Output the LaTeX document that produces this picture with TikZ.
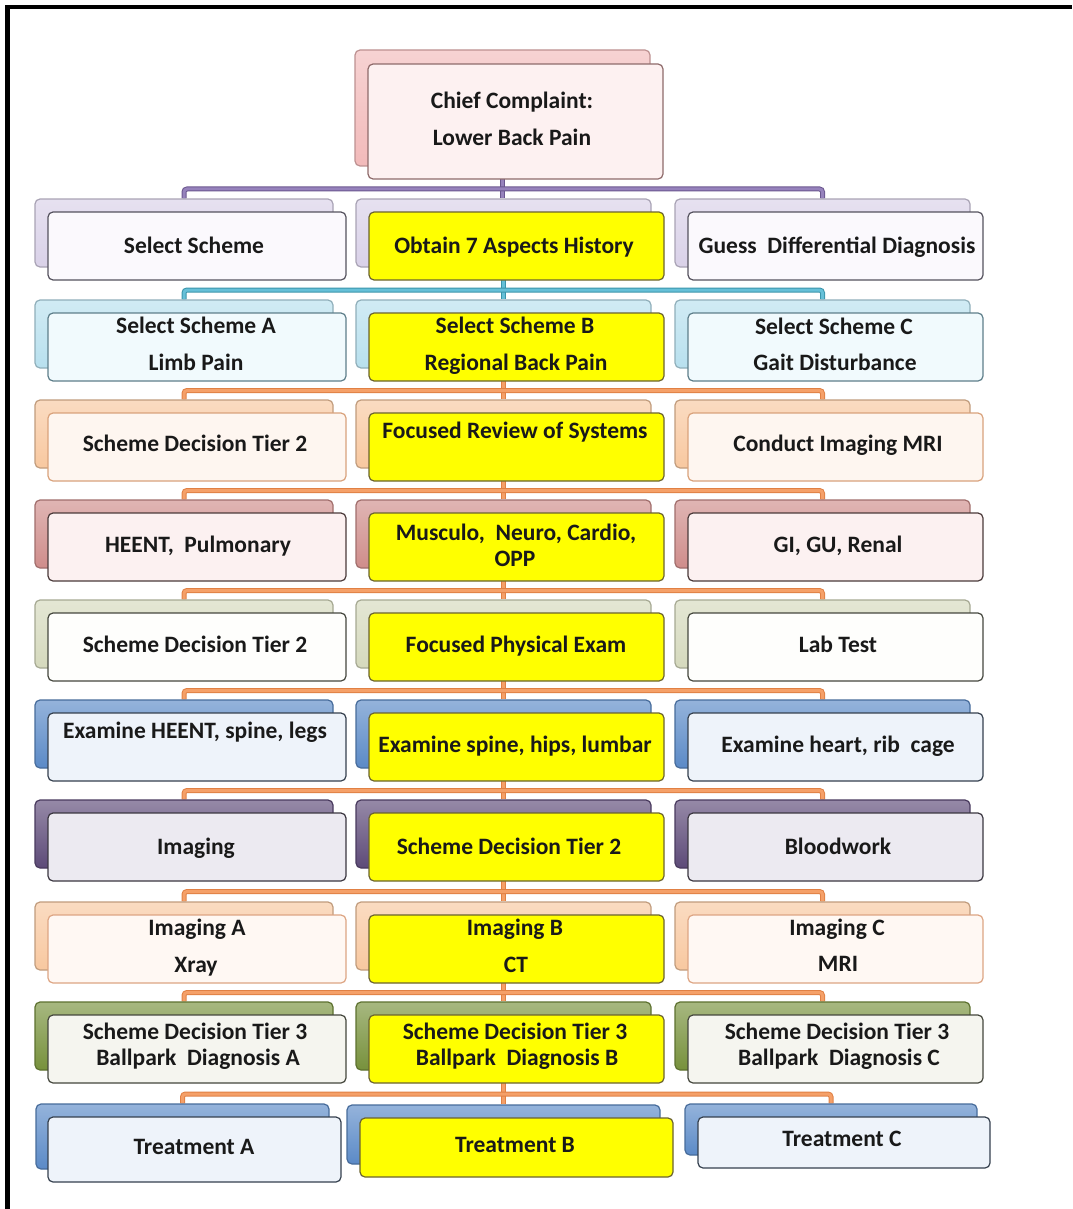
\documentclass[tikz,border=0pt]{standalone}
\usepackage{fontspec}
\setmainfont{Carlito}
\usetikzlibrary{fit,calc}
\pgfdeclarelayer{paper}
\pgfdeclarelayer{links}
\pgfsetlayers{paper,links,main}

% back (stacked) card colours per row
\definecolor{bk0}{HTML}{F2BABA}
\definecolor{bk1}{HTML}{D9D1E8}
\definecolor{bk2}{HTML}{B8E0EE}
\definecolor{bk3}{HTML}{F8C8A0}
\definecolor{bk4}{HTML}{CF8D8B}
\definecolor{bk5}{HTML}{D5D9BD}
\definecolor{bk6}{HTML}{5B8AC7}
\definecolor{bk7}{HTML}{5D4A78}
\definecolor{bk8}{HTML}{F8C8A0}
\definecolor{bk9}{HTML}{77913C}
\definecolor{bk10}{HTML}{5B8AC7}
% front card fills and borders per row
\definecolor{fr0}{HTML}{FDF1F1}\definecolor{frd0}{HTML}{8E6A6A}
\definecolor{fr1}{HTML}{FBF9FD}\definecolor{frd1}{HTML}{55525E}
\definecolor{fr2}{HTML}{F1FAFD}\definecolor{frd2}{HTML}{5E7E8A}
\definecolor{fr3}{HTML}{FEF6F0}\definecolor{frd3}{HTML}{D9A27C}
\definecolor{fr4}{HTML}{FCF1F1}\definecolor{frd4}{HTML}{4A3A3A}
\definecolor{fr5}{HTML}{FEFEFC}\definecolor{frd5}{HTML}{45473E}
\definecolor{fr6}{HTML}{EEF3FA}\definecolor{frd6}{HTML}{35404E}
\definecolor{fr7}{HTML}{ECEAF1}\definecolor{frd7}{HTML}{3A3640}
\definecolor{fr8}{HTML}{FFF8F3}\definecolor{frd8}{HTML}{DDA583}
\definecolor{fr9}{HTML}{F5F5EF}\definecolor{frd9}{HTML}{44463C}
\definecolor{fr10}{HTML}{EEF3FA}\definecolor{frd10}{HTML}{35404E}
\definecolor{hiyel}{HTML}{FFFF00}
\definecolor{hiyeld}{HTML}{6B6330}
% connector colours
\definecolor{lkpurple}{HTML}{9682BC}\definecolor{lkpurpled}{HTML}{6A568E}
\definecolor{lkteal}{HTML}{66C0D8}\definecolor{lktealed}{HTML}{3A94AA}
\definecolor{lkorange}{HTML}{F5A068}\definecolor{lkoranged}{HTML}{E08044}

\tikzset{
  card/.style={rounded corners=5pt, inner sep=0pt, line width=1.2pt},
  backbox/.style={card, draw=#1!78!black, top color=#1!65!white, bottom color=#1},
  frontbox/.style 2 args={card, fill=#1, draw=#2},
  hibox/.style={card, fill=hiyel, draw=hiyeld},
  boxtext/.style={font=\fontsize{23.5}{28}\selectfont\bfseries, inner sep=0pt,
    anchor=mid, yshift=-5pt, text=black!90},
  link/.style 2 args={draw=#1, double=#2, double distance=3pt,
    line width=1pt, rounded corners=3pt},
}

\begin{document}
\begin{tikzpicture}[x=1pt,y=-1pt]
\useasboundingbox (0,0) rectangle (1072,1209);
\begin{pgfonlayer}{paper}
\fill[white] (0,0) rectangle (1072,1209);
\end{pgfonlayer}

% frame strokes (top and left)
\fill[black] (5,5) rectangle (1072,9);
\fill[black] (5,5) rectangle (9.5,1209);

% top card
\node[backbox=bk0, fit={(355,50) (650,166)}] (r0bb) {};
\node[frontbox={fr0}{frd0}, fit={(368,64) (663,179)}] (r0b) {};

% rows 1-9: three stacked cards each
\foreach \r/\ytop in {1/212,2/313,3/413,4/513,5/613,6/713,7/813,8/915,9/1015}{
  \pgfmathsetmacro\ybot{\ytop+68}
  \node[backbox=bk\r, fit={(35,\ytop-13) (333,\ybot-13)}] (r\r ab) {};
  \node[backbox=bk\r, fit={(356,\ytop-13) (651,\ybot-13)}] (r\r bb) {};
  \node[backbox=bk\r, fit={(675,\ytop-13) (970,\ybot-13)}] (r\r cb) {};
  \node[frontbox={fr\r}{frd\r}, fit={(48,\ytop) (346,\ybot)}] (r\r a) {};
  \node[hibox, fit={(369,\ytop) (664,\ybot)}] (r\r b) {};
  \node[frontbox={fr\r}{frd\r}, fit={(688,\ytop) (983,\ybot)}] (r\r c) {};
}

% row 10 (treatments)
\node[backbox=bk10, fit={(36,1104) (329,1169)}] (r10ab) {};
\node[backbox=bk10, fit={(347,1105) (660,1164)}] (r10bb) {};
\node[backbox=bk10, fit={(685,1104) (977,1155)}] (r10cb) {};
\node[frontbox={fr10}{frd10}, fit={(48,1117) (341,1182)}] (r10a) {};
\node[hibox, fit={(360,1118) (673,1177)}] (r10b) {};
\node[frontbox={fr10}{frd10}, fit={(698,1117) (990,1168)}] (r10c) {};

% connectors behind the cards
\begin{pgfonlayer}{links}
\foreach \p in {0,...,9}{
  \pgfmathtruncatemacro\q{\p+1}
  \ifnum\p=0 \def\lk{lkpurple}\else\ifnum\p=1 \def\lk{lkteal}\else\def\lk{lkorange}\fi\fi
  \ifnum\p=1 \def\lkd{lktealed}\else\edef\lkd{\lk d}\fi
  \coordinate (bar\p) at ($(r\q bb.north)!0.5!(r\q bb.north |- r\p b.south)$);
  \draw[link={\lkd}{\lk}] (r\p bb.south) -- (r\p bb.south |- r\q bb.north);
  \draw[link={\lkd}{\lk}] (r\q ab.north) |- (bar\p) -| (r\q cb.north);
}
\end{pgfonlayer}

% texts
\node[boxtext] (t0a) at (512,101) {Chief Complaint:};
\node[boxtext] (t0b) at (512,138) {Lower Back Pain};

\node[boxtext] (t1a) at (194,246) {Select Scheme};
\node[boxtext] (t1b) at (514,246) {Obtain 7 Aspects History};
\node[boxtext] (t1c) at (837,246) {Guess\ \ Differential Diagnosis};

\node[boxtext] (t2a1) at (196,326) {Select Scheme A};
\node[boxtext] (t2a2) at (196,363) {Limb Pain};
\node[boxtext] (t2b1) at (515,326) {Select Scheme B};
\node[boxtext] (t2b2) at (516,363) {Regional Back Pain};
\node[boxtext] (t2c1) at (834,327) {Select Scheme C};
\node[boxtext] (t2c2) at (835,363) {Gait Disturbance};

\node[boxtext] (t3a) at (195,444) {Scheme Decision Tier 2};
\node[boxtext] (t3b) at (515,431) {Focused Review of Systems};
\node[boxtext] (t3c) at (838,444) {Conduct Imaging MRI};

\node[boxtext] (t4a) at (198,545) {HEENT,\ \ Pulmonary};
\node[boxtext] (t4b1) at (516,533) {Musculo,\ \ Neuro, Cardio,};
\node[boxtext] (t4b2) at (515,559) {OPP};
\node[boxtext] (t4c) at (838,545) {GI, GU, Renal};

\node[boxtext] (t5a) at (195,645) {Scheme Decision Tier 2};
\node[boxtext] (t5b) at (516,645) {Focused Physical Exam};
\node[boxtext] (t5c) at (838,645) {Lab Test};

\node[boxtext] (t6a) at (195,731) {Examine HEENT, spine, legs};
\node[boxtext] (t6b) at (515,745) {Examine spine, hips, lumbar};
\node[boxtext] (t6c) at (838,745) {Examine heart, rib\ \ cage};

\node[boxtext] (t7a) at (196,847) {Imaging};
\node[boxtext] (t7b) at (509,847) {Scheme Decision Tier 2};
\node[boxtext] (t7c) at (838,847) {Bloodwork};

\node[boxtext] (t8a1) at (197,928) {Imaging A};
\node[boxtext] (t8a2) at (196,965) {Xray};
\node[boxtext] (t8b1) at (515,928) {Imaging B};
\node[boxtext] (t8b2) at (516,965) {CT};
\node[boxtext] (t8c1) at (837,928) {Imaging C};
\node[boxtext] (t8c2) at (838,964) {MRI};

\node[boxtext] (t9a1) at (195,1032) {Scheme Decision Tier 3};
\node[boxtext] (t9a2) at (198,1058) {Ballpark\ \ Diagnosis A};
\node[boxtext] (t9b1) at (515,1032) {Scheme Decision Tier 3};
\node[boxtext] (t9b2) at (517,1058) {Ballpark\ \ Diagnosis B};
\node[boxtext] (t9c1) at (837,1032) {Scheme Decision Tier 3};
\node[boxtext] (t9c2) at (839,1058) {Ballpark\ \ Diagnosis C};

\node[boxtext] (t10a) at (194,1147) {Treatment A};
\node[boxtext] (t10b) at (515,1145) {Treatment B};
\node[boxtext] (t10c) at (842,1139) {Treatment C};
\end{tikzpicture}
\end{document}
